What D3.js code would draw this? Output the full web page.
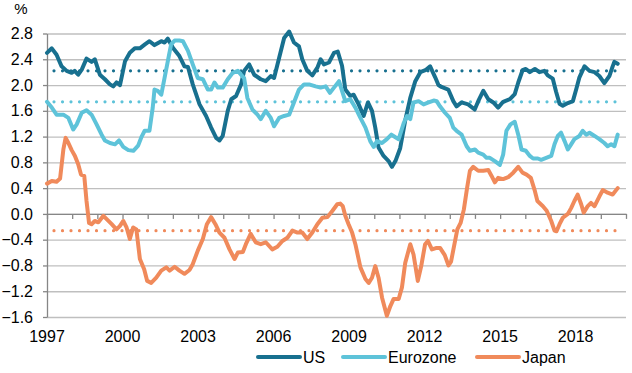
<!DOCTYPE html>
<html>
<head>
<meta charset="utf-8">
<script src="https://cdn.jsdelivr.net/npm/d3@7/dist/d3.min.js"></script>
<style>
  body { margin: 0; background: #fff; }
  svg { display: block; font-family: "Liberation Sans", Arial, sans-serif; }
</style>
</head>
<body>
<svg id="chart" width="632" height="373"></svg>
<script>
// tick labels
const yTicks = [-1.6, -1.2, -0.8, -0.4, 0, 0.4, 0.8, 1.2, 1.6, 2.0, 2.4, 2.8];
const yearLabels = [1997, 2000, 2003, 2006, 2009, 2012, 2015, 2018];
const yearTicks = d3.range(1997, 2021);

// series: [decimal year, %]
const usSeries = [
  [1997.00,2.50],[1997.19,2.57],[1997.38,2.47],[1997.58,2.29],[1997.78,2.22],[1997.98,2.19],[1998.10,2.22],
  [1998.24,2.16],[1998.38,2.24],[1998.57,2.41],[1998.77,2.36],[1998.90,2.40],[1999.10,2.16],[1999.30,2.09],
  [1999.50,2.01],[1999.63,1.98],[1999.76,2.04],[1999.90,2.00],[2000.10,2.37],[2000.29,2.50],[2000.49,2.57],
  [2000.69,2.57],[2000.89,2.63],[2001.07,2.68],[2001.27,2.62],[2001.54,2.68],[2001.67,2.66],[2001.80,2.72],
  [2002.00,2.58],[2002.26,2.45],[2002.46,2.29],[2002.60,2.28],[2002.79,2.01],[2003.06,1.70],[2003.32,1.52],
  [2003.52,1.34],[2003.72,1.18],[2003.85,1.14],[2003.98,1.21],[2004.18,1.60],[2004.32,1.78],[2004.51,1.83],
  [2004.71,2.01],[2004.83,2.22],[2005.03,2.32],[2005.23,2.16],[2005.49,2.09],[2005.69,2.06],[2005.89,2.14],
  [2006.02,2.11],[2006.22,2.42],[2006.42,2.73],[2006.62,2.83],[2006.81,2.66],[2007.01,2.60],[2007.14,2.40],
  [2007.34,2.22],[2007.54,2.15],[2007.74,2.27],[2007.87,2.40],[2008.00,2.32],[2008.20,2.35],[2008.40,2.50],
  [2008.55,2.52],[2008.72,2.30],[2008.85,1.93],[2009.05,1.83],[2009.18,1.85],[2009.38,1.70],[2009.58,1.52],
  [2009.75,1.73],[2009.91,1.60],[2010.04,1.34],[2010.17,1.03],[2010.37,0.90],[2010.57,0.82],[2010.70,0.73],
  [2010.84,0.82],[2011.03,1.02],[2011.23,1.45],[2011.43,1.80],[2011.63,2.06],[2011.83,2.20],[2012.03,2.23],
  [2012.22,2.29],[2012.42,2.12],[2012.55,2.00],[2012.67,1.97],[2012.94,1.93],[2013.14,1.75],[2013.27,1.67],
  [2013.47,1.73],[2013.73,1.70],[2013.99,1.62],[2014.13,1.75],[2014.33,1.91],[2014.53,1.78],[2014.73,1.73],
  [2014.92,1.65],[2015.12,1.74],[2015.39,1.78],[2015.58,1.86],[2015.72,2.04],[2015.89,2.23],[2016.02,2.25],
  [2016.18,2.20],[2016.38,2.25],[2016.56,2.20],[2016.76,2.22],[2016.89,2.15],[2017.09,2.10],[2017.22,1.90],
  [2017.36,1.71],[2017.49,1.68],[2017.69,1.72],[2017.89,1.75],[2018.02,1.93],[2018.15,2.12],[2018.35,2.29],
  [2018.55,2.22],[2018.75,2.20],[2018.94,2.14],[2019.14,2.03],[2019.34,2.14],[2019.47,2.29],[2019.54,2.36],
  [2019.67,2.33]
];

const euroSeries = [
  [1997.00,1.74],[1997.19,1.65],[1997.38,1.54],[1997.65,1.54],[1997.85,1.49],[1998.04,1.31],[1998.18,1.39],
  [1998.38,1.57],[1998.57,1.61],[1998.77,1.54],[1998.97,1.39],[1999.17,1.23],[1999.30,1.14],[1999.50,1.10],
  [1999.70,1.08],[1999.86,1.14],[2000.03,1.04],[2000.23,0.99],[2000.43,0.98],[2000.62,1.06],[2000.76,1.20],
  [2000.88,1.29],[2001.07,1.29],[2001.20,1.65],[2001.27,1.93],[2001.40,1.91],[2001.54,1.85],[2001.67,2.11],
  [2001.80,2.37],[2001.93,2.63],[2002.07,2.69],[2002.26,2.69],[2002.40,2.68],[2002.60,2.53],[2002.79,2.32],
  [2002.99,2.11],[2003.19,2.09],[2003.39,1.93],[2003.52,1.93],[2003.65,2.04],[2003.79,1.96],[2003.98,1.96],
  [2004.18,2.09],[2004.38,2.19],[2004.58,2.22],[2004.75,2.14],[2004.83,2.11],[2004.96,1.80],[2005.16,1.62],
  [2005.36,1.54],[2005.49,1.47],[2005.69,1.60],[2005.89,1.49],[2006.02,1.36],[2006.22,1.49],[2006.42,1.52],
  [2006.62,1.54],[2006.81,1.73],[2007.01,1.93],[2007.21,2.01],[2007.41,2.01],[2007.67,1.98],[2007.87,1.96],
  [2008.07,1.98],[2008.24,1.88],[2008.40,1.96],[2008.60,2.06],[2008.72,1.91],[2008.85,1.75],[2009.05,1.78],
  [2009.25,1.65],[2009.45,1.49],[2009.65,1.34],[2009.84,1.13],[2009.98,1.04],[2010.11,1.13],[2010.31,1.10],
  [2010.50,1.16],[2010.68,1.23],[2010.84,1.19],[2010.97,1.16],[2011.17,1.41],[2011.30,1.52],[2011.43,1.47],
  [2011.56,1.73],[2011.76,1.75],[2011.96,1.70],[2012.16,1.73],[2012.36,1.76],[2012.48,1.75],[2012.61,1.67],
  [2012.81,1.57],[2013.00,1.49],[2013.14,1.34],[2013.27,1.29],[2013.47,1.23],[2013.67,1.05],[2013.80,0.98],
  [2014.00,1.00],[2014.13,0.95],[2014.33,0.92],[2014.46,0.87],[2014.59,0.87],[2014.79,0.82],[2014.99,0.76],
  [2015.12,0.92],[2015.25,1.29],[2015.41,1.39],[2015.58,1.43],[2015.72,1.23],[2015.85,1.00],[2016.02,0.98],
  [2016.18,0.90],[2016.31,0.86],[2016.50,0.86],[2016.63,0.84],[2016.83,0.87],[2017.03,0.90],[2017.16,1.08],
  [2017.29,1.21],[2017.42,1.26],[2017.56,1.13],[2017.69,1.00],[2017.82,1.08],[2017.95,1.16],[2018.15,1.21],
  [2018.28,1.29],[2018.42,1.23],[2018.55,1.26],[2018.75,1.21],[2018.94,1.16],[2019.14,1.10],[2019.27,1.05],
  [2019.41,1.08],[2019.54,1.05],[2019.67,1.23]
];

const japanSeries = [
  [1997.00,0.47],[1997.19,0.51],[1997.38,0.50],[1997.52,0.55],[1997.65,1.00],[1997.74,1.18],[1997.85,1.10],
  [1997.98,0.99],[1998.11,0.90],[1998.24,0.77],[1998.35,0.61],[1998.48,0.59],[1998.57,0.20],[1998.67,-0.14],
  [1998.77,-0.16],[1998.90,-0.11],[1999.04,-0.13],[1999.24,-0.03],[1999.37,-0.08],[1999.57,-0.16],[1999.76,-0.24],
  [1999.89,-0.19],[2000.03,-0.11],[2000.16,-0.21],[2000.29,-0.39],[2000.42,-0.21],[2000.55,-0.24],[2000.69,-0.70],
  [2000.86,-0.86],[2000.98,-1.04],[2001.14,-1.07],[2001.34,-0.99],[2001.54,-0.88],[2001.74,-0.83],[2001.87,-0.88],
  [2002.07,-0.82],[2002.26,-0.88],[2002.46,-0.93],[2002.66,-0.87],[2002.79,-0.78],[2002.99,-0.57],[2003.19,-0.39],
  [2003.35,-0.16],[2003.52,-0.05],[2003.69,-0.16],[2003.85,-0.29],[2004.05,-0.37],[2004.25,-0.55],[2004.45,-0.70],
  [2004.58,-0.60],[2004.78,-0.59],[2004.90,-0.47],[2005.09,-0.31],[2005.29,-0.44],[2005.49,-0.47],[2005.69,-0.44],
  [2005.95,-0.55],[2006.15,-0.51],[2006.35,-0.42],[2006.55,-0.37],[2006.75,-0.26],[2006.95,-0.29],[2007.14,-0.29],
  [2007.34,-0.39],[2007.54,-0.29],[2007.74,-0.16],[2007.94,-0.06],[2008.14,-0.05],[2008.34,0.05],[2008.53,0.15],
  [2008.65,0.16],[2008.75,0.12],[2008.85,-0.03],[2008.98,-0.16],[2009.12,-0.29],[2009.25,-0.47],[2009.45,-0.83],
  [2009.65,-1.01],[2009.78,-1.07],[2009.91,-0.99],[2010.04,-0.81],[2010.17,-0.99],[2010.31,-1.30],[2010.50,-1.58],
  [2010.64,-1.43],[2010.77,-1.32],[2010.97,-1.32],[2011.10,-1.14],[2011.23,-0.76],[2011.43,-0.47],[2011.56,-0.63],
  [2011.73,-1.04],[2011.87,-0.80],[2012.02,-0.47],[2012.13,-0.42],[2012.29,-0.55],[2012.45,-0.53],[2012.62,-0.53],
  [2012.80,-0.64],[2012.95,-0.80],[2013.05,-0.74],[2013.16,-0.52],[2013.30,-0.24],[2013.43,-0.14],[2013.56,0.07],
  [2013.69,0.41],[2013.80,0.67],[2013.93,0.73],[2014.13,0.67],[2014.33,0.67],[2014.53,0.68],[2014.66,0.59],
  [2014.79,0.49],[2014.92,0.56],[2015.12,0.54],[2015.32,0.57],[2015.52,0.64],[2015.72,0.73],[2015.89,0.64],
  [2016.05,0.61],[2016.22,0.56],[2016.37,0.37],[2016.48,0.20],[2016.70,0.12],[2016.85,0.05],[2017.03,-0.11],
  [2017.16,-0.26],[2017.24,-0.27],[2017.36,-0.16],[2017.49,-0.06],[2017.69,0.00],[2017.82,0.09],[2017.95,0.20],
  [2018.08,0.30],[2018.22,0.15],[2018.32,0.02],[2018.48,0.12],[2018.61,0.17],[2018.75,0.12],[2018.94,0.27],
  [2019.08,0.37],[2019.27,0.33],[2019.47,0.30],[2019.67,0.40]
];

// long-run averages (dotted lines)
const averages = [2.22, 1.74, -0.26];
const seriesNames = ['US', 'Eurozone', 'Japan'];
const seriesColors = ['#18708f', '#5ec3d9', '#f08a5b'];

const svg = d3.select('#chart');
const margin = { top: 33.5, right: 6, bottom: 56, left: 47 };
const width = 632 - margin.left - margin.right;
const height = 373 - margin.top - margin.bottom;

const x = d3.scaleLinear().domain([1997, 2020]).range([0, width]);
const y = d3.scaleLinear().domain([-1.6, 2.8]).range([height, 0]);

const g = svg.append('g')
  .attr('transform', 'translate(' + margin.left + ',' + margin.top + ')');

// gridlines
const grid = g.append('g')
  .call(d3.axisLeft(y).tickValues(yTicks).tickSize(-width).tickFormat(''));
grid.select('.domain').remove();
grid.selectAll('line').attr('stroke', '#bfbfbf').attr('stroke-width', 1.3);

// y axis
const yAxis = g.append('g')
  .call(d3.axisLeft(y).tickValues(yTicks).tickSize(4).tickSizeOuter(0).tickPadding(10)
    .tickFormat(d3.format('.1f')));
yAxis.select('.domain').attr('stroke', '#868686').attr('stroke-width', 1.3);
yAxis.selectAll('line').attr('stroke', '#868686').attr('stroke-width', 1.3);
yAxis.selectAll('text')
  .attr('fill', '#000')
  .style('font-size', '16px')
  .style('font-family', '"Liberation Sans", Arial, sans-serif');

// x axis along zero
const xAxis = g.append('g')
  .attr('transform', 'translate(0,' + y(0) + ')')
  .call(d3.axisBottom(x).tickValues(yearTicks).tickSize(5).tickSizeOuter(0).tickFormat(''));
xAxis.select('.domain').attr('stroke', '#868686').attr('stroke-width', 1.3);
xAxis.selectAll('line').attr('stroke', '#868686').attr('stroke-width', 1.3);

// year labels at the bottom
g.append('g')
  .selectAll('text')
  .data(yearLabels)
  .enter()
  .append('text')
  .attr('x', d => x(d))
  .attr('y', height + 25)
  .attr('text-anchor', 'middle')
  .style('font-size', '16px')
  .attr('fill', '#000')
  .text(d => d);

// unit
svg.append('text')
  .attr('x', 21)
  .attr('y', 14)
  .attr('text-anchor', 'middle')
  .style('font-size', '15px')
  .attr('fill', '#000')
  .text('%');

const allSeries = [usSeries, euroSeries, japanSeries];

// dotted average lines
averages.forEach((avg, i) => {
  const s = allSeries[i];
  g.append('line')
    .attr('x1', x(s[0][0]))
    .attr('x2', x(s[s.length - 1][0]))
    .attr('y1', y(avg))
    .attr('y2', y(avg))
    .attr('stroke', seriesColors[i])
    .attr('stroke-width', 3.2)
    .attr('stroke-linecap', 'round')
    .attr('stroke-dasharray', '0 8.5')
    .attr('stroke-dashoffset', 1.5);
});

const line = d3.line()
  .x(d => x(d[0]))
  .y(d => y(d[1]));

allSeries.forEach((s, i) => {
  g.append('path')
    .datum(s)
    .attr('d', line)
    .attr('fill', 'none')
    .attr('stroke', seriesColors[i])
    .attr('stroke-width', 4)
    .attr('stroke-linejoin', 'round')
    .attr('stroke-linecap', 'round');
});

// legend
const legendX = [258, 343, 477];
const legend = svg.selectAll('.legend')
  .data(seriesNames)
  .enter()
  .append('g')
  .classed('legend', true)
  .attr('transform', (d, i) => 'translate(' + legendX[i] + ',357)');

legend.append('line')
  .attr('x1', 0)
  .attr('x2', 42)
  .attr('stroke', (d, i) => seriesColors[i])
  .attr('stroke-width', 4)
  .attr('stroke-linecap', 'round');

legend.append('text')
  .attr('x', 45)
  .attr('dy', '0.35em')
  .style('font-size', '16px')
  .attr('fill', '#000')
  .text(d => d);
</script>
</body>
</html>
